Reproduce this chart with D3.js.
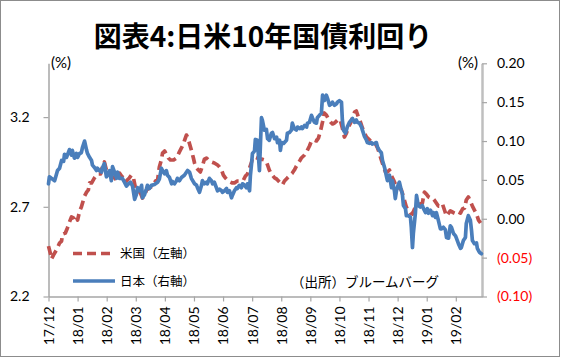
<!DOCTYPE html>
<html>
<head>
<meta charset="utf-8">
<script src="https://cdnjs.cloudflare.com/ajax/libs/d3/7.8.5/d3.min.js"></script>
<style>
  html, body { margin: 0; padding: 0; background: #fff; }
  svg { display: block; }
</style>
</head>
<body>
<svg id="chart" width="562" height="359"></svg>
<script>
// ---- data ----
const title = "図表4:日米10年国債利回り";
const monthLabels = ["17/12","18/01","18/02","18/03","18/04","18/05","18/06","18/07","18/08","18/09","18/10","18/11","18/12","19/01","19/02"];
const leftTicks = [2.2, 2.7, 3.2];
const rightTicks = [-0.10, -0.05, 0.00, 0.05, 0.10, 0.15, 0.20];
const seriesNames = ["米国（左軸）", "日本（右軸）"];
const sourceNote = "（出所）ブルームバーグ";

// [month offset from 17/12, yield %]
const usYield = [[0,2.481],[.07,2.437],[.10,2.409],[.17,2.431],[.27,2.459],[.38,2.498],[.45,2.509],[.48,2.548],[.58,2.554],[.65,2.582],[.72,2.615],[.79,2.643],[.86,2.638],[.89,2.626],[.96,2.643],[1.00,2.626],[1.07,2.677],[1.13,2.699],[1.17,2.721],[1.24,2.760],[1.31,2.782],[1.37,2.794],[1.41,2.833],[1.48,2.833],[1.58,2.861],[1.65,2.877],[1.72,2.883],[1.79,2.883],[1.86,2.927],[1.92,2.950],[1.99,2.905],[2.06,2.883],[2.13,2.877],[2.20,2.866],[2.27,2.861],[2.34,2.849],[2.37,2.872],[2.44,2.888],[2.51,2.872],[2.58,2.861],[2.65,2.838],[2.71,2.849],[2.78,2.861],[2.85,2.877],[2.92,2.861],[2.99,2.805],[3.06,2.794],[3.16,2.777],[3.23,2.749],[3.30,2.766],[3.37,2.794],[3.47,2.805],[3.57,2.816],[3.68,2.844],[3.75,2.849],[3.81,2.922],[3.88,2.961],[3.92,3.000],[3.99,3.011],[4.05,2.994],[4.12,2.972],[4.19,2.961],[4.30,2.961],[4.40,2.972],[4.50,3.006],[4.57,3.028],[4.64,3.050],[4.67,3.067],[4.74,3.100],[4.78,3.089],[4.85,3.050],[4.91,3.017],[4.98,2.972],[5.02,2.944],[5.09,2.916],[5.15,2.905],[5.22,2.894],[5.29,2.927],[5.36,2.966],[5.43,2.972],[5.50,2.961],[5.60,2.950],[5.70,2.944],[5.81,2.933],[5.88,2.922],[5.95,2.905],[6.01,2.877],[6.08,2.861],[6.15,2.849],[6.25,2.838],[6.32,2.833],[6.39,2.833],[6.49,2.844],[6.60,2.844],[6.70,2.849],[6.77,2.872],[6.84,2.883],[6.91,2.916],[6.98,2.950],[7.01,2.972],[7.08,2.978],[7.18,2.972],[7.25,2.961],[7.32,2.966],[7.42,2.961],[7.49,2.950],[7.53,2.933],[7.59,2.905],[7.66,2.883],[7.77,2.861],[7.84,2.855],[7.94,2.838],[8.04,2.822],[8.11,2.844],[8.21,2.861],[8.28,2.872],[8.38,2.888],[8.45,2.905],[8.52,2.927],[8.63,2.955],[8.69,2.972],[8.80,2.989],[8.87,3.006],[8.97,3.039],[9.04,3.067],[9.11,3.073],[9.21,3.067],[9.28,3.084],[9.35,3.123],[9.42,3.173],[9.48,3.223],[9.55,3.212],[9.62,3.189],[9.69,3.173],[9.76,3.162],[9.83,3.167],[9.90,3.178],[9.97,3.189],[10.03,3.184],[10.10,3.139],[10.17,3.089],[10.24,3.111],[10.31,3.145],[10.38,3.167],[10.45,3.195],[10.52,3.228],[10.58,3.234],[10.65,3.201],[10.72,3.173],[10.79,3.139],[10.86,3.111],[10.93,3.089],[11.03,3.073],[11.13,3.056],[11.24,3.050],[11.31,3.028],[11.37,3.000],[11.44,2.961],[11.51,2.927],[11.58,2.894],[11.65,2.894],[11.72,2.905],[11.79,2.872],[11.86,2.849],[11.92,2.827],[11.99,2.810],[12.06,2.805],[12.13,2.794],[12.16,2.777],[12.23,2.738],[12.30,2.699],[12.37,2.682],[12.44,2.665],[12.51,2.660],[12.58,2.688],[12.65,2.704],[12.71,2.710],[12.78,2.716],[12.85,2.721],[12.92,2.782],[12.99,2.771],[13.06,2.755],[13.13,2.749],[13.20,2.749],[13.26,2.738],[13.33,2.721],[13.40,2.704],[13.47,2.704],[13.54,2.716],[13.61,2.682],[13.68,2.649],[13.75,2.665],[13.81,2.677],[13.88,2.671],[13.95,2.665],[14.02,2.660],[14.09,2.671],[14.16,2.665],[14.23,2.688],[14.30,2.693],[14.36,2.738],[14.43,2.755],[14.50,2.732],[14.57,2.704],[14.64,2.682],[14.71,2.660],[14.78,2.626],[14.85,2.610]];

const jpYield = [[0,.045],[.03,.054],[.10,.052],[.21,.049],[.31,.062],[.38,.065],[.45,.075],[.52,.074],[.55,.083],[.62,.079],[.72,.089],[.79,.082],[.82,.088],[.89,.078],[.96,.084],[1.00,.079],[1.07,.084],[1.13,.085],[1.17,.092],[1.24,.100],[1.31,.088],[1.34,.084],[1.41,.079],[1.48,.075],[1.51,.069],[1.58,.066],[1.65,.062],[1.68,.065],[1.75,.062],[1.82,.060],[1.86,.066],[1.92,.071],[1.99,.054],[2.03,.056],[2.10,.062],[2.16,.049],[2.20,.067],[2.27,.060],[2.34,.052],[2.37,.060],[2.44,.052],[2.54,.052],[2.61,.047],[2.68,.042],[2.75,.045],[2.82,.047],[2.89,.042],[2.96,.025],[3.02,.031],[3.06,.040],[3.13,.036],[3.20,.043],[3.23,.027],[3.30,.031],[3.37,.039],[3.40,.043],[3.47,.039],[3.54,.043],[3.64,.044],[3.75,.047],[3.81,.051],[3.88,.065],[3.92,.062],[3.99,.058],[4.05,.062],[4.09,.056],[4.16,.053],[4.23,.045],[4.26,.048],[4.33,.045],[4.40,.049],[4.43,.052],[4.50,.049],[4.57,.053],[4.67,.056],[4.78,.062],[4.85,.060],[4.91,.052],[5.02,.045],[5.09,.043],[5.12,.040],[5.19,.034],[5.26,.043],[5.29,.049],[5.36,.045],[5.43,.047],[5.46,.045],[5.53,.052],[5.60,.049],[5.64,.045],[5.70,.047],[5.77,.040],[5.81,.036],[5.88,.038],[5.95,.036],[5.98,.034],[6.05,.036],[6.12,.039],[6.15,.034],[6.22,.036],[6.29,.027],[6.32,.030],[6.39,.036],[6.46,.040],[6.49,.039],[6.56,.043],[6.63,.040],[6.67,.045],[6.74,.043],[6.80,.040],[6.84,.045],[6.91,.036],[6.94,.056],[6.98,.071],[7.01,.084],[7.08,.087],[7.11,.102],[7.18,.101],[7.25,.062],[7.32,.130],[7.35,.127],[7.42,.114],[7.49,.115],[7.53,.103],[7.59,.101],[7.66,.110],[7.70,.111],[7.77,.103],[7.84,.105],[7.87,.098],[7.94,.101],[7.97,.088],[8.01,.098],[8.08,.097],[8.18,.101],[8.21,.110],[8.28,.111],[8.35,.114],[8.38,.123],[8.45,.116],[8.52,.114],[8.56,.118],[8.63,.116],[8.69,.118],[8.73,.116],[8.80,.120],[8.87,.118],[8.90,.123],[8.97,.124],[9.04,.133],[9.07,.130],[9.14,.124],[9.21,.123],[9.24,.130],[9.31,.133],[9.38,.136],[9.42,.159],[9.48,.152],[9.55,.159],[9.59,.155],[9.66,.146],[9.73,.148],[9.76,.150],[9.83,.146],[9.90,.148],[9.93,.150],[10.00,.152],[10.07,.150],[10.10,.127],[10.14,.114],[10.21,.110],[10.27,.118],[10.34,.124],[10.41,.127],[10.45,.129],[10.52,.124],[10.58,.127],[10.62,.124],[10.69,.123],[10.76,.118],[10.79,.114],[10.86,.106],[10.93,.101],[10.96,.098],[11.03,.097],[11.10,.098],[11.13,.096],[11.20,.097],[11.27,.098],[11.31,.092],[11.37,.088],[11.44,.085],[11.48,.075],[11.55,.066],[11.62,.054],[11.65,.049],[11.72,.056],[11.79,.040],[11.82,.049],[11.89,.036],[11.92,.026],[11.96,.036],[12.03,.045],[12.06,.047],[12.13,.036],[12.16,.033],[12.20,.017],[12.27,.013],[12.30,.004],[12.37,.004],[12.44,.002],[12.47,-.011],[12.51,-.037],[12.54,-.019],[12.61,.007],[12.65,.030],[12.71,.017],[12.78,.015],[12.85,.017],[12.89,.013],[12.96,.008],[13.02,.013],[13.06,.007],[13.13,.011],[13.20,.004],[13.23,.008],[13.30,.002],[13.33,.008],[13.40,-.002],[13.47,-.013],[13.51,-.013],[13.57,-.011],[13.64,-.014],[13.68,-.024],[13.75,-.025],[13.81,-.009],[13.85,-.011],[13.92,-.019],[13.99,-.022],[14.02,-.025],[14.09,-.032],[14.16,-.038],[14.19,-.037],[14.26,-.028],[14.33,-.024],[14.36,-.006],[14.43,.004],[14.50,-.002],[14.54,-.015],[14.57,-.028],[14.64,-.032],[14.71,-.031],[14.74,-.038],[14.81,-.043],[14.88,-.045]];

// ---- layout ----
const W = 562, H = 359;
const plot = { left: 48.5, right: 482, top: 63.3, bottom: 296.5 };
const usColor = "#C0504D", jpColor = "#4A7EBB";
const axisColor = "#A6A6A6";
const numFont = "Lato, 'Open Sans', sans-serif";
const jpFont = "'Noto Sans CJK JP', 'Noto Sans', sans-serif";
const usDash = "9,5";

const svg = d3.select("#chart");
svg.append("rect").attr("x", 0).attr("y", 0).attr("width", W).attr("height", H).attr("fill", "#fff");
svg.append("rect").attr("x", 0.5).attr("y", 0.5).attr("width", 559).attr("height", 356)
  .attr("fill", "none").attr("stroke", "#8C8C8C").attr("stroke-width", 1);

svg.append("text").attr("x", 263).attr("y", 46.5).attr("text-anchor", "middle")
  .attr("font-family", jpFont).attr("font-weight", "bold").attr("font-size", 28)
  .attr("fill", "#000").text(title);

const x = d3.scaleLinear().domain([0, 14.9]).range([plot.left, plot.right]);
const yL = d3.scaleLinear().domain([2.2, 3.5]).range([plot.bottom, plot.top]);
const yR = d3.scaleLinear().domain([-0.10, 0.20]).range([plot.bottom, plot.top]);

// left axis
const gL = svg.append("g").attr("transform", `translate(${plot.left},0)`)
  .call(d3.axisLeft(yL).tickValues(leftTicks).tickSize(5).tickSizeOuter(0).tickPadding(14).tickFormat(d3.format(".1f")));
// right axis
const fmtR = v => { const s = Math.abs(v).toFixed(2); return v < -1e-9 ? `(${s})` : s; };
const gR = svg.append("g").attr("transform", `translate(${plot.right},0)`)
  .call(d3.axisRight(yR).tickValues(rightTicks).tickSize(5).tickSizeOuter(0).tickPadding(10).tickFormat(fmtR));
// x axis
const gX = svg.append("g").attr("transform", `translate(0,${plot.bottom})`)
  .call(d3.axisBottom(x).tickValues(d3.range(monthLabels.length)).tickSize(5).tickSizeOuter(0)
    .tickFormat((d, i) => monthLabels[i]));

[gL, gR, gX].forEach(g => {
  g.select(".domain").attr("stroke", axisColor).attr("stroke-width", 1.5);
  g.selectAll(".tick line").attr("stroke", axisColor).attr("stroke-width", 1.2);
  g.selectAll("text").attr("font-family", numFont).attr("font-size", 14).attr("fill", "#000");
});
gR.select(".domain").attr("stroke", "#BFBFBF").attr("stroke-width", 2.5);
gR.selectAll(".tick text").attr("fill", d => d < -1e-9 ? "#FF0000" : "#000");
gX.selectAll(".tick text")
  .attr("transform", "rotate(-90)")
  .attr("text-anchor", "end")
  .attr("x", -10).attr("y", 0).attr("dy", "0.35em");

// unit labels
svg.append("text").attr("x", 51).attr("y", 68).attr("font-family", numFont).attr("font-size", 15).text("(%)");
svg.append("text").attr("x", 478).attr("y", 68).attr("text-anchor", "end").attr("font-family", numFont).attr("font-size", 15).text("(%)");

// lines
const lineL = d3.line().x(d => x(d[0])).y(d => yL(d[1]));
const lineR = d3.line().x(d => x(d[0])).y(d => yR(d[1]));

svg.append("path").datum(usYield).attr("d", lineL)
  .attr("fill", "none").attr("stroke", usColor).attr("stroke-width", 3.7)
  .attr("stroke-dasharray", usDash).attr("stroke-linejoin", "round");
svg.append("path").datum(jpYield).attr("d", lineR)
  .attr("fill", "none").attr("stroke", jpColor).attr("stroke-width", 3.7)
  .attr("stroke-linejoin", "round").attr("stroke-linecap", "round");

// legend
const leg = [
  { name: seriesNames[0], color: usColor, dash: usDash, y: 253.5, x2: 110 },
  { name: seriesNames[1], color: jpColor, dash: null, y: 281, x2: 115 }
];
leg.forEach(l => {
  svg.append("line").attr("x1", 73).attr("x2", l.x2).attr("y1", l.y).attr("y2", l.y)
    .attr("stroke", l.color).attr("stroke-width", 3.7).attr("stroke-dasharray", l.dash);
  svg.append("text").attr("x", 120).attr("y", l.y).attr("dy", "0.36em")
    .attr("font-family", jpFont).attr("font-size", 12.5).attr("fill", "#000").text(l.name);
});
svg.append("text").attr("x", 291).attr("y", 282).attr("dy", "0.36em")
  .attr("font-family", jpFont).attr("font-size", 13.5).attr("fill", "#000").text(sourceNote);
</script>
</body>
</html>
